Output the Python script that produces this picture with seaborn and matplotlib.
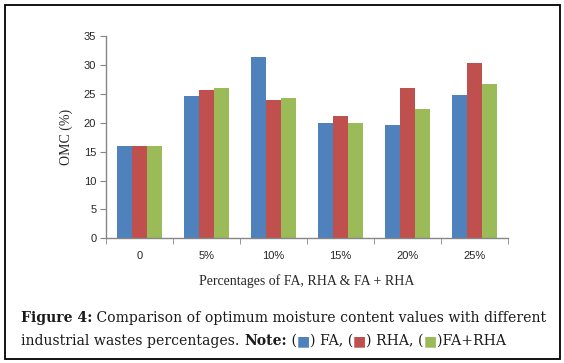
import pandas as pd
import numpy as np
import matplotlib
matplotlib.use("Agg")
import matplotlib.pyplot as plt
import seaborn as sns
from matplotlib.patches import Rectangle

# ---- data ----
categories = ["0", "5%", "10%", "15%", "20%", "25%"]
fa = [16.0, 24.6, 31.4, 20.0, 19.6, 24.8]
rha = [16.0, 25.6, 23.9, 21.2, 26.0, 30.4]
fa_rha = [16.0, 26.0, 24.2, 20.0, 22.4, 26.7]
series = ["FA", "RHA", "FA+RHA"]
colors = ["#4F81BD", "#C0504D", "#9BBB59"]

df = pd.DataFrame({
    "pct": categories * 3,
    "omc": fa + rha + fa_rha,
    "material": [s for s in series for _ in categories],
})

sns.set_style("white")

fig = plt.figure(figsize=(5.64, 3.63), dpi=100)
ax = fig.add_axes([0.188, 0.3435, 0.7127, 0.5573])

sns.barplot(data=df, x="pct", y="omc", hue="material", order=categories,
            hue_order=series, palette=colors, width=0.667, gap=0,
            saturation=1, legend=False, ax=ax, linewidth=0)

ax.set_xlim(-0.5, len(categories) - 0.5)
ax.set_ylim(0, 35)
ax.set_yticks(np.arange(0, 36, 5))

axis_grey = "#868686"
for side in ["top", "right"]:
    ax.spines[side].set_visible(False)
for side in ["left", "bottom"]:
    ax.spines[side].set_color(axis_grey)
    ax.spines[side].set_linewidth(1.0)

ax.tick_params(axis="y", direction="out", length=4, color=axis_grey,
               labelsize=8, pad=3, left=True)
ax.tick_params(axis="x", which="major", length=0, labelsize=8, pad=9)
ax.set_xticks(np.arange(-0.5, len(categories)), minor=True)
ax.tick_params(axis="x", which="minor", direction="out", length=4,
               color=axis_grey, bottom=True)
for lab in ax.get_xticklabels() + ax.get_yticklabels():
    lab.set_fontfamily("Liberation Sans")
    lab.set_color("#262626")

ax.set_xlabel("Percentages of FA, RHA & FA + RHA", family="Liberation Serif",
              fontsize=10, labelpad=10)
ax.set_ylabel("OMC (%)", family="Liberation Serif", fontsize=10, labelpad=8)

# outer frame
fig.patches.append(Rectangle((5 / 564, 1 - 358.5 / 363), 555 / 564, 354 / 363,
                             transform=fig.transFigure, fill=False,
                             edgecolor="black", linewidth=1.3))

# caption with mixed styles
cap_font = "DejaVu Serif"
cap_size = 10.1
renderer = fig.canvas.get_renderer()


def write_line(pieces, x0, y0):
    x = x0
    for txt, weight, col in pieces:
        t = fig.text(x, y0, txt, family=cap_font, fontsize=cap_size,
                     fontweight=weight, color=col, va="baseline", ha="left")
        bb = t.get_window_extent(renderer=renderer)
        x += bb.width / fig.bbox.width


dark = "#1a1a1a"
write_line([("Figure 4:", "bold", dark),
            (" Comparison of optimum moisture content values with different", "normal", dark)],
           21 / 564, 1 - 322 / 363)
write_line([("industrial wastes percentages. ", "normal", dark),
            ("Note:", "bold", dark),
            (" (", "normal", dark), ("\u25a0", "normal", colors[0]),
            (") FA, (", "normal", dark), ("\u25a0", "normal", colors[1]),
            (") RHA, (", "normal", dark), ("\u25a0", "normal", colors[2]),
            (")FA+RHA", "normal", dark)],
           21 / 564, 1 - 345 / 363)

fig.savefig("out.png", dpi=100)
